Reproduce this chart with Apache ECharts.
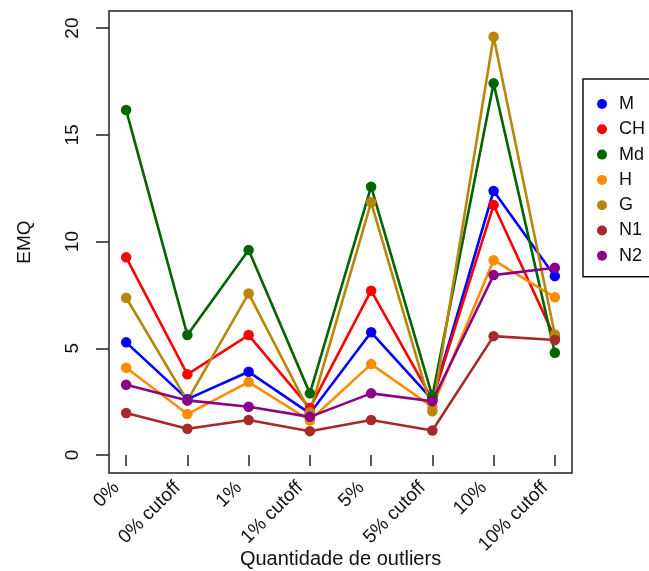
<!DOCTYPE html>
<html>
<head>
<meta charset="utf-8">
<script src="https://cdn.jsdelivr.net/npm/echarts@6/dist/echarts.min.js"></script>
<style>html,body{margin:0;padding:0;background:#fff}#c{width:649px;height:571px}</style>
</head>
<body>
<div id="c"></div>
<script>
const categories = ['0%', '0% cutoff', '1%', '1% cutoff', '5%', '5% cutoff', '10%', '10% cutoff'];
const yTicks = [0, 5, 10, 15, 20];
const seriesNames = ['M', 'CH', 'Md', 'H', 'G', 'N1', 'N2'];
const M  = [5.28, 2.62, 3.90, 1.95, 5.75, 2.60, 12.37, 8.38];
const CH = [9.26, 3.78, 5.62, 2.20, 7.70, 2.60, 11.71, 5.50];
const Md = [16.16, 5.62, 9.60, 2.89, 12.57, 2.75, 17.41, 4.79];
const H  = [4.09, 1.92, 3.42, 1.62, 4.26, 2.25, 9.13, 7.39];
const G  = [7.37, 2.55, 7.57, 2.00, 11.84, 2.05, 19.59, 5.65];
const N1 = [1.97, 1.23, 1.64, 1.12, 1.64, 1.15, 5.57, 5.39];
const N2 = [3.29, 2.56, 2.26, 1.79, 2.89, 2.52, 8.43, 8.77];
const values = [M, CH, Md, H, G, N1, N2];
const colors = ['#0000FF', '#FF0000', '#006400', '#FF8C00', '#B8860B', '#A52A2A', '#8B008B'];

const positions = categories.map((c, i) => i + 1);
const font = 'Liberation Sans, Arial, sans-serif';

const chart = echarts.init(document.getElementById('c'), null, {renderer: 'canvas'});
chart.setOption({
  animation: false,
  backgroundColor: '#fff',
  grid: {left: 109, right: 77, top: 11, bottom: 98, containLabel: false, outerBoundsMode: 'none',
    show: true, borderColor: '#222', borderWidth: 1.5, backgroundColor: 'transparent'},
  xAxis: {
    type: 'value', min: 0.72, max: 8.28,
    axisLine: {show: false},
    splitLine: {show: false},
    axisTick: {show: true, customValues: positions, length: 11, lineStyle: {color: '#222', width: 1.5}},
    axisLabel: {customValues: positions, rotate: 45, margin: 2, padding: [0, 14, 0, 0], color: '#111', fontSize: 19, fontFamily: font,
      formatter: v => categories[Math.round(v) - 1] || ''},
    name: 'Quantidade de outliers', nameLocation: 'middle', nameGap: 76, nameMoveOverlap: false,
    nameTextStyle: {fontSize: 20, color: '#111', fontFamily: font}
  },
  yAxis: {
    type: 'value', min: -0.84, max: 20.8,
    axisLine: {show: false},
    splitLine: {show: false},
    axisTick: {show: true, customValues: yTicks, length: 13, lineStyle: {color: '#222', width: 1.5}},
    axisLabel: {customValues: yTicks, rotate: 90, margin: 27, color: '#111', fontSize: 19, fontFamily: font},
    name: 'EMQ', nameLocation: 'middle', nameGap: 75, nameRotate: 90, nameMoveOverlap: false,
    nameTextStyle: {fontSize: 19, color: '#111', fontFamily: font}
  },
  legend: {
    orient: 'vertical', left: 583, top: 79,
    data: seriesNames,
    icon: 'circle', itemWidth: 24, itemHeight: 10, itemGap: 5.3,
    padding: [15, 10, 11, 14],
    borderColor: '#111', borderWidth: 1.5,
    textStyle: {fontSize: 18, color: '#111', fontFamily: font, lineHeight: 20, width: 45, padding: [0, 0, 0, 0]}
  },
  series: seriesNames.map((name, k) => ({
    name: name, type: 'line',
    data: values[k].map((v, i) => [positions[i], v]),
    color: colors[k],
    symbol: 'circle', symbolSize: 10.5,
    lineStyle: {width: 2.6, color: colors[k]},
    itemStyle: {color: colors[k]}
  }))
});
</script>
</body>
</html>
